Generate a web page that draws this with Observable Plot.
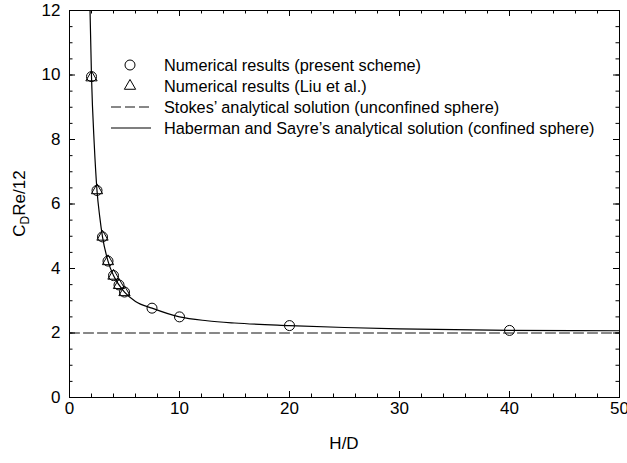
<!DOCTYPE html>
<html><head><meta charset="utf-8">
<script src="https://cdn.jsdelivr.net/npm/d3@7"></script>
<script src="https://cdn.jsdelivr.net/npm/@observablehq/plot@0.6"></script>
<style>
body{margin:0;background:#fff}
#chart svg{font-family:"Liberation Sans",Arial,sans-serif}
</style>
</head><body><div id="chart"></div>
<script>
// ---- data ----
const presentHD = [2, 2.5, 3, 3.5, 4, 4.5, 5, 7.5, 10, 20, 40];
const presentCd = [9.95, 6.42, 4.98, 4.23, 3.78, 3.49, 3.27, 2.77, 2.5, 2.23, 2.08];
const liuHD = [2, 2.5, 3, 3.5, 4, 4.5, 5];
const liuCd = [9.92, 6.42, 4.98, 4.22, 3.77, 3.48, 3.26];
const stokesHD = [0, 50];
const stokesCd = [2, 2];
const habermanHD = [1.86, 2, 2.25, 2.5, 2.75, 3, 3.5, 4, 4.5, 5, 6, 7.5, 10, 12.5, 15, 20, 25, 30, 40, 50];
const habermanCd = [12.1, 9.95, 7.85, 6.42, 5.6, 4.98, 4.23, 3.78, 3.49, 3.27, 2.98, 2.77, 2.5, 2.38, 2.31, 2.23, 2.17, 2.13, 2.08, 2.07];
const xTickLabels = [0, 10, 20, 30, 40, 50];
const yTickLabels = [0, 2, 4, 6, 8, 10, 12];
const legendLabels = [
  "Numerical results (present scheme)",
  "Numerical results (Liu et al.)",
  "Stokes\u2019 analytical solution (unconfined sphere)",
  "Haberman and Sayre\u2019s analytical solution (confined sphere)"
];

const present = presentHD.map((x, i) => ({x, y: presentCd[i]}));
const liu = liuHD.map((x, i) => ({x, y: liuCd[i]}));
const stokes = stokesHD.map((x, i) => ({x, y: stokesCd[i]}));
const haberman = habermanHD.map((x, i) => ({x, y: habermanCd[i]}));

const W = 627, H = 463, mt = 10, mr = 8, mb = 66, ml = 69;
const fw = W - ml - mr, fh = H - mt - mb;
const xMinor = d3.range(0, 50.001, 2), yMinor = d3.range(0, 12.001, 0.5);
const majLen = 6, minLen = 3.5;
// tick lengths converted from pixels to data units
const xMaj = majLen * 50 / fw, xMin = minLen * 50 / fw;
const yMaj = majLen * 12 / fh, yMin = minLen * 12 / fh;
const FONT = "Liberation Sans, Arial, sans-serif";
const TC = "black";

const plot = Plot.plot({
  width: W, height: H,
  marginTop: mt, marginRight: mr, marginBottom: mb, marginLeft: ml,
  style: {fontFamily: FONT, fontSize: "17px", color: "black", background: "white"},
  x: {domain: [0, 50]},
  y: {domain: [0, 12]},
  marks: [
    Plot.axisX(xTickLabels, {tickSize: 0, tickPadding: 4, fontSize: 17, label: null}),
    Plot.axisY(yTickLabels, {tickSize: 0, tickPadding: 9, fontSize: 17, label: null}),
    // inward ticks on all four sides
    Plot.ruleX(xMinor, {x: d => d, y1: 0, y2: yMin, stroke: TC}),
    Plot.ruleX(xMinor, {x: d => d, y1: 12 - yMin, y2: 12, stroke: TC}),
    Plot.ruleX(xTickLabels, {x: d => d, y1: 0, y2: yMaj, stroke: TC}),
    Plot.ruleX(xTickLabels, {x: d => d, y1: 12 - yMaj, y2: 12, stroke: TC}),
    Plot.ruleY(yMinor, {y: d => d, x1: 0, x2: xMin, stroke: TC}),
    Plot.ruleY(yMinor, {y: d => d, x1: 50 - xMin, x2: 50, stroke: TC}),
    Plot.ruleY(yTickLabels, {y: d => d, x1: 0, x2: xMaj, stroke: TC}),
    Plot.ruleY(yTickLabels, {y: d => d, x1: 50 - xMaj, x2: 50, stroke: TC}),
    Plot.line(stokes, {x: "x", y: "y", stroke: "#111", strokeWidth: 1, strokeDasharray: "10,4"}),
    Plot.line(haberman, {x: "x", y: "y", stroke: "black", strokeWidth: 1.2, curve: "monotone-x", clip: true}),
    Plot.dot(present, {x: "x", y: "y", r: 5, stroke: "black", strokeWidth: 1, fill: "none"}),
    Plot.dot(liu, {x: "x", y: "y", r: 4.2, symbol: "triangle", stroke: "black", strokeWidth: 1, fill: "none"}),
    Plot.frame({stroke: "black", strokeWidth: 1})
  ]
});

const svg = d3.select(plot);
// x axis title
svg.append("text").attr("x", ml + fw / 2).attr("y", 449).attr("text-anchor", "middle")
  .attr("font-size", 17).attr("font-family", FONT).attr("fill", "black").text("H/D");
// y axis title with subscript
const yl = svg.append("text").attr("transform", `translate(25,${mt + fh / 2}) rotate(-90)`)
  .attr("text-anchor", "middle").attr("font-size", 17).attr("font-family", FONT).attr("fill", "black");
yl.append("tspan").text("C");
yl.append("tspan").attr("font-size", 12).attr("dy", 4).text("D");
yl.append("tspan").attr("dy", -4).text("Re/12");

// legend
const lg = svg.append("g").attr("font-family", FONT).attr("font-size", 16.3)
  .attr("fill", "black").attr("text-anchor", "start");
const rowY = [65, 86, 107, 128], symX = 130, lineX0 = 111, lineX1 = 151, textX = 164;
legendLabels.forEach((t, i) => {
  lg.append("text").attr("x", textX).attr("y", rowY[i]).attr("dy", "0.35em").text(t);
});
lg.append("circle").attr("cx", symX).attr("cy", rowY[0]).attr("r", 5).attr("fill", "none").attr("stroke", "black");
lg.append("path").attr("transform", `translate(${symX},${rowY[1]})`)
  .attr("d", d3.symbol(d3.symbolTriangle, 4.2 * 4.2 * Math.PI)()).attr("fill", "none").attr("stroke", "black");
lg.append("line").attr("x1", lineX0).attr("x2", lineX1).attr("y1", rowY[2]).attr("y2", rowY[2])
  .attr("stroke", "#111").attr("stroke-dasharray", "10,4");
lg.append("line").attr("x1", lineX0).attr("x2", lineX1).attr("y1", rowY[3]).attr("y2", rowY[3])
  .attr("stroke", "black").attr("stroke-width", 1.2);

document.getElementById("chart").append(plot);
</script>
</body></html>
